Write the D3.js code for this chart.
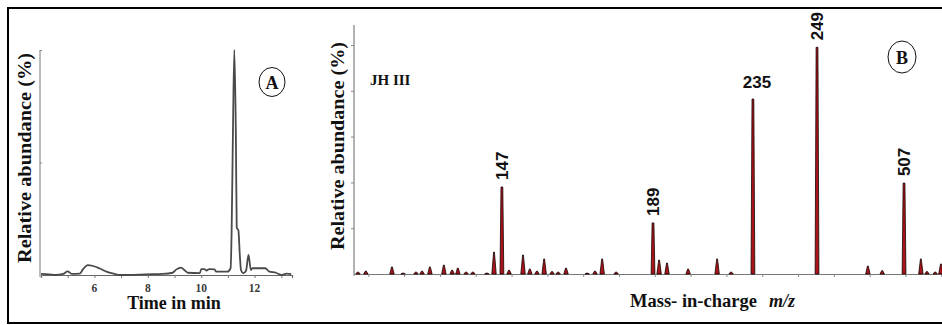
<!DOCTYPE html>
<html><head><meta charset="utf-8">
<script src="https://cdn.jsdelivr.net/npm/d3@7"></script>
<style>body{margin:0;background:#fff}svg{display:block}</style>
</head><body>
<svg id="c" width="942" height="325"></svg>
<script>
// ---------- Panel A : chromatogram ----------
const timeMin = [4.00,4.30,4.55,4.83,5.00,5.15,5.45,5.57,5.75,5.95,6.20,6.45,6.75,6.95,7.45,7.95,8.55,8.93,9.07,9.25,9.37,9.50,9.95,10.00,10.12,10.20,10.30,10.50,10.56,10.98,11.10,11.14,11.19,11.24,11.30,11.33,11.39,11.45,11.49,11.58,11.68,11.77,11.86,11.92,12.40,12.55,12.80,13.00,13.20,13.37];
const abundanceA = [0.5,0.3,0,0.5,1.6,0.5,0.6,2.5,4.4,4.0,2.9,1.5,0.5,0,0.1,0.3,0.5,1.0,2.5,3.3,2.2,1.0,0.8,2.6,2.6,2.0,2.6,2.5,1.5,1.5,3.0,20,65,100,60,21,20,8,2.2,0.8,2.0,8.9,2.2,3.0,3.0,1.5,1.0,0,0.6,0.4];
const timeTicks = [6, 8, 10, 12];

// ---------- Panel B : mass spectrum (x in units of the unlabeled axis ticks) ----------
const peakPos = [-0.29,-0.07,0.66,0.97,1.33,1.50,1.72,2.11,2.34,2.50,2.73,2.92,3.31,3.51,3.73,3.93,4.32,4.51,4.71,4.91,5.13,5.30,5.52,6.11,6.33,6.53,6.92,7.95,8.12,8.34,8.93,9.74,10.13,10.74,12.53,13.95,14.35,14.96,15.43,15.60,15.83,15.99];
const peakHeight = [0.9,1.3,3.1,0.4,0.9,1.3,3.1,3.9,1.7,2.6,0.9,0.9,0.4,9.6,38,1.7,8.3,2.2,1.3,6.6,1.1,0.9,2.6,0.4,1.3,6.6,0.9,22.3,6.1,4.8,2.2,6.6,0.9,76.4,99,3.5,1.5,39.7,6.6,1.1,0.9,4.4];
const peakLabel = ["","","","","","","","","","","","","","","147","","","","","","","","","","","","","189","","","","","","235","249","","","507","","","",""];
const yTicksB = [20, 40, 60, 80, 100];
const xTicksB = d3.range(0, 17);

const svg = d3.select("#c");
const serif = "'Liberation Serif','Times New Roman',serif";
const sans = "'Liberation Sans',Arial,sans-serif";

// frame
svg.append("rect").attr("x", 8).attr("y", 8).attr("width", 945).attr("height", 315)
  .attr("fill", "none").attr("stroke", "#000").attr("stroke-width", 2);

// ===== Panel A =====
const xA = d3.scaleLinear().domain([4, 13.4]).range([41, 292]);
const yA = d3.scaleLinear().domain([0, 100]).range([275, 50]);

const gAx = svg.append("g").attr("transform", `translate(0,${yA(0)})`)
  .call(d3.axisBottom(xA).tickValues(d3.range(4, 14)).tickSize(3).tickFormat(""));
gAx.select(".domain").attr("stroke", "#666").attr("stroke-width", 1.2);
gAx.selectAll(".tick line").attr("stroke", "#777");
svg.append("g").selectAll("text").data(timeTicks).join("text")
  .attr("x", d => xA(d)).attr("y", 292).attr("text-anchor", "middle")
  .attr("font-family", serif).attr("font-weight", "bold").attr("font-size", 11.5)
  .attr("fill", "#3a3a3a").text(d => d);

const gAy = svg.append("g").attr("transform", `translate(${xA(4) - 1},0)`)
  .call(d3.axisRight(yA).tickValues([50, 100]).tickSize(2).tickFormat(""));
gAy.select(".domain").attr("stroke", "#777").attr("d", `M0,${yA(100)}V${yA(0) + 2}`);
gAy.selectAll(".tick line").attr("stroke", "#888");

const lineA = d3.line().x((d, i) => xA(timeMin[i])).y(d => yA(d)).curve(d3.curveMonotoneX);
svg.append("path").datum(abundanceA).attr("d", lineA)
  .attr("fill", "none").attr("stroke", "#4a4a4a").attr("stroke-width", 1.8).attr("stroke-linejoin", "round");

svg.append("text").attr("transform", "translate(25,158) rotate(-90)")
  .attr("text-anchor", "middle").attr("dominant-baseline", "central")
  .attr("font-family", serif).attr("font-weight", "bold").attr("font-size", 18)
  .attr("textLength", 210).attr("lengthAdjust", "spacingAndGlyphs")
  .attr("fill", "#111").text("Relative abundance (%)");
svg.append("text").attr("x", 174).attr("y", 309).attr("text-anchor", "middle")
  .attr("font-family", serif).attr("font-weight", "bold").attr("font-size", 18)
  .attr("fill", "#111").text("Time in min");

svg.append("ellipse").attr("cx", 272).attr("cy", 82).attr("rx", 13).attr("ry", 14.5)
  .attr("fill", "none").attr("stroke", "#111").attr("stroke-width", 1);
svg.append("text").attr("x", 272).attr("y", 88.5).attr("text-anchor", "middle")
  .attr("font-family", serif).attr("font-weight", "bold").attr("font-size", 18)
  .attr("fill", "#111").text("A");

// ===== Panel B =====
const xB = d3.scaleLinear().domain([-0.4, 16.02]).range([354, 942]);
const yB = d3.scaleLinear().domain([0, 100]).range([274, 45]);

const gBx = svg.append("g").attr("transform", `translate(0,${yB(0)})`)
  .call(d3.axisBottom(xB).tickValues(xTicksB).tickSize(3).tickFormat("").tickSizeOuter(0));
gBx.select(".domain").attr("stroke", "#777").attr("stroke-width", 1);
gBx.selectAll(".tick line").attr("stroke", "#888");

const gBy = svg.append("g").attr("transform", `translate(${xB(-0.4)},0)`)
  .call(d3.axisLeft(yB).tickValues(yTicksB).tickSize(3).tickFormat(""));
gBy.select(".domain").attr("stroke", "#666").attr("d", `M0,25V${yB(0) + 2}`);
gBy.selectAll(".tick line").attr("stroke", "#888");

const peaks = peakPos.map((p, i) => ({ p, h: peakHeight[i], label: peakLabel[i] }));
svg.append("g").selectAll("path").data(peaks).join("path")
  .attr("d", d => {
    const x = xB(d.p), b = yB(0), t = yB(d.h);
    const w = d.h > 15 ? 1.9 : 2.2, wt = d.h > 15 ? 0.9 : 0.4;
    return `M${x - w},${b}L${x - wt},${t}L${x + wt},${t}L${x + w},${b}Z`;
  })
  .attr("fill", "#a8141a").attr("stroke", "#140404").attr("stroke-width", 0.8);

const lab = peaks.filter(d => d.label);
svg.append("g").selectAll("text").data(lab).join("text")
  .attr("transform", d => d.label === "235"
    ? `translate(${xB(d.p) + 4},${yB(d.h) - 11})`
    : `translate(${xB(d.p) + 0.5},${yB(d.h) - 7}) rotate(-90)`)
  .attr("text-anchor", d => d.label === "235" ? "middle" : "start")
  .attr("dominant-baseline", d => d.label === "235" ? "alphabetic" : "central")
  .attr("font-family", sans).attr("font-weight", "bold").attr("font-size", 17)
  .attr("fill", "#111").text(d => d.label);

svg.append("text").attr("transform", "translate(338,146) rotate(-90)")
  .attr("text-anchor", "middle").attr("dominant-baseline", "central")
  .attr("font-family", serif).attr("font-weight", "bold").attr("font-size", 18)
  .attr("textLength", 208).attr("lengthAdjust", "spacingAndGlyphs")
  .attr("fill", "#111").text("Relative abundance (%)");

svg.append("text").attr("x", 370).attr("y", 85)
  .attr("font-family", serif).attr("font-weight", "bold").attr("font-size", 15)
  .attr("fill", "#111").text("JH III");

const xl = svg.append("text").attr("x", 630).attr("y", 307)
  .attr("font-family", serif).attr("font-weight", "bold").attr("font-size", 18.5).attr("fill", "#111");
xl.append("tspan").text("Mass- in-charge");
xl.append("tspan").attr("dx", 12).attr("font-style", "italic").attr("font-size", 18).text("m/z");

svg.append("ellipse").attr("cx", 902).attr("cy", 57).attr("rx", 14).attr("ry", 16)
  .attr("fill", "none").attr("stroke", "#111").attr("stroke-width", 1);
svg.append("text").attr("x", 902).attr("y", 63.5).attr("text-anchor", "middle")
  .attr("font-family", serif).attr("font-weight", "bold").attr("font-size", 18)
  .attr("fill", "#111").text("B");
</script>
</body></html>
